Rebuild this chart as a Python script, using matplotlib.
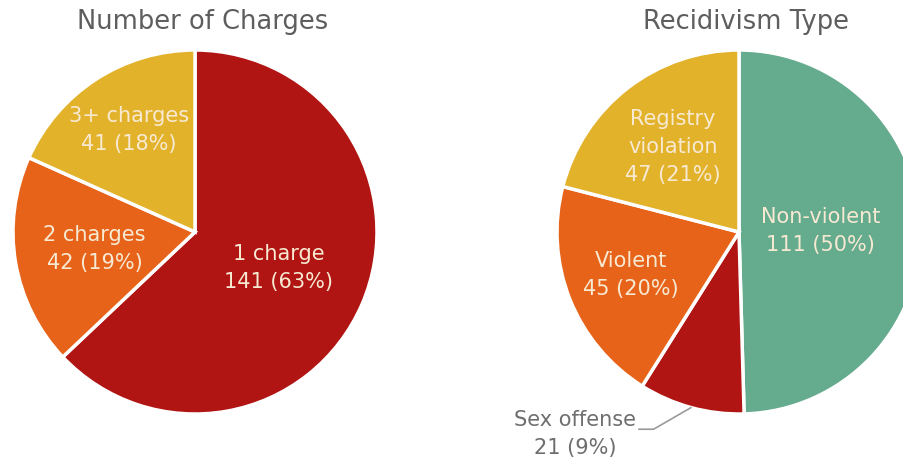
import numpy as np
import matplotlib
matplotlib.use("Agg")
import matplotlib.pyplot as plt

plt.rcParams['font.family'] = ['DejaVu Sans']

# ---- data ----
charges_labels = ["1 charge", "2 charges", "3+ charges"]
charges_values = [141, 42, 41]
charges_pcts = [63, 19, 18]

recid_labels = ["Non-violent", "Sex offense", "Violent", "Registry\nviolation"]
recid_values = [111, 21, 45, 47]
recid_pcts = [50, 9, 20, 21]

RED = "#B01513"
ORANGE = "#E8631A"
YELLOW = "#E3B22B"
GREEN = "#65AB8E"
charges_colors = [RED, ORANGE, YELLOW]
recid_colors = [GREEN, RED, ORANGE, YELLOW]

TXT_IN = "#F7E9D2"
TITLE_C = "#5E5E5E"
LS = 1.48

W, H = 904, 463
fig = plt.figure(figsize=(W / 100, H / 100), dpi=100)
fig.patch.set_facecolor("white")

R_PX = 182


def pie_axes(cx, cy):
    return fig.add_axes([(cx - R_PX) / W, (H - cy - R_PX) / H, 2 * R_PX / W, 2 * R_PX / H])


def draw_pie(ax, values, colors):
    wedges, _ = ax.pie(values, colors=colors, startangle=90, counterclock=False,
                       radius=1.0,
                       wedgeprops=dict(edgecolor="white", linewidth=2.5))
    ax.set_xlim(-1, 1)
    ax.set_ylim(-1, 1)
    ax.set_aspect("equal")
    ax.axis("off")
    return wedges


def mid_angle(w):
    return np.deg2rad((w.theta1 + w.theta2) / 2)


# ---- left pie ----
axL = pie_axes(195, 232)
wL = draw_pie(axL, charges_values, charges_colors)
distL = [0.50, 0.56, 0.67]
for w, lab, v, p, d in zip(wL, charges_labels, charges_values, charges_pcts, distL):
    a = mid_angle(w)
    t = axL.text(d * np.cos(a), d * np.sin(a), f"{lab}\n{v} ({p}%)", ha="center", va="center",
                 color=TXT_IN, fontsize=15, linespacing=LS)
    t.set_clip_path(w)
fig.text(203 / W, 1 - 22 / H, "Number of Charges", ha="center", va="center",
         fontsize=18.5, color=TITLE_C)

# ---- right pie ----
axR = pie_axes(739, 232)
wR = draw_pie(axR, recid_values, recid_colors)
distR = [0.45, None, 0.64, 0.59]
for w, lab, v, p, d in zip(wR, recid_labels, recid_values, recid_pcts, distR):
    if d is None:
        continue
    a = mid_angle(w)
    axR.text(d * np.cos(a), d * np.sin(a), f"{lab}\n{v} ({p}%)", ha="center", va="center",
             color=TXT_IN, fontsize=15, linespacing=LS)

# outside label for sex offense
ws = wR[1]
a = mid_angle(ws)
axR.annotate(f"{recid_labels[1]}\n{recid_values[1]} ({recid_pcts[1]}%)",
             xy=(np.cos(a), np.sin(a)), xycoords="data",
             xytext=(-164 / R_PX, -202 / R_PX), textcoords="data",
             ha="center", va="center", fontsize=15, color="#6E6E6E", linespacing=LS,
             annotation_clip=False,
             arrowprops=dict(arrowstyle="-", color="#9A9A9A", lw=1.2,
                             shrinkA=0, shrinkB=0, relpos=(0.99, 0.6),
                             connectionstyle="angle,angleA=0,angleB=30,rad=0"))
fig.text(746 / W, 1 - 22 / H, "Recidivism Type", ha="center", va="center",
         fontsize=18.5, color=TITLE_C)

fig.savefig("out.png", dpi=100, facecolor="white")
